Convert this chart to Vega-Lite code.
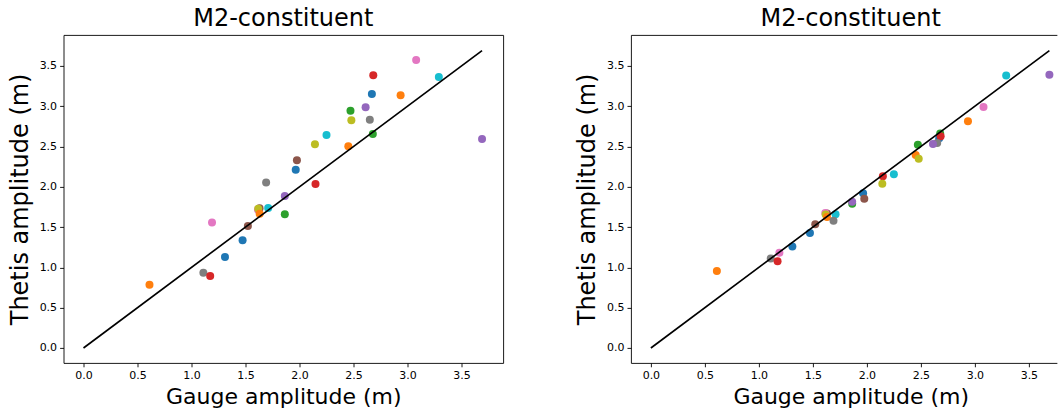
{
  "$schema": "https://vega.github.io/schema/vega-lite/v6.json",
  "background": "white",
  "padding": {"left": 7.5, "top": 6.9, "right": 0, "bottom": 0},
  "bounds": "flush",
  "spacing": 127.4,
  "config": {
    "view": {"stroke": null},
    "font": "DejaVu Sans",
    "title": {"font": "DejaVu Sans", "fontSize": 24, "fontWeight": "normal", "color": "black", "anchor": "middle", "frame": "group", "baseline": "alphabetic", "offset": 3.5},
    "axis": {
      "grid": false,
      "domainColor": "black", "domainWidth": 0.9,
      "tickColor": "black", "tickSize": 3.9, "tickWidth": 0.9,
      "labelFont": "DejaVu Sans", "labelFontSize": 11, "labelColor": "black", "labelPadding": 3,
      "titleFont": "DejaVu Sans", "titleFontSize": 22, "titleFontWeight": "normal", "titleColor": "black",
      "values": [0, 0.5, 1, 1.5, 2, 2.5, 3, 3.5], "format": ".1f"
    }
  },
  "datasets": {
    "pts": [
      {"g": 1.31, "tl": 1.13, "tr": 1.26, "c": "C0"},
      {"g": 0.611, "tl": 0.786, "tr": 0.955, "c": "C1"},
      {"g": 1.864, "tl": 1.659, "tr": 1.791, "c": "C2"},
      {"g": 1.864, "tl": 1.886, "tr": 1.816, "c": "C4"},
      {"g": 1.63, "tl": 1.735, "tr": 1.67, "c": "C5"},
      {"g": 1.615, "tl": 1.715, "tr": 1.675, "c": "C6"},
      {"g": 1.618, "tl": 1.729, "tr": 1.655, "c": "C8"},
      {"g": 1.631, "tl": 1.667, "tr": 1.626, "c": "C1"},
      {"g": 1.71, "tl": 1.737, "tr": 1.659, "c": "C9"},
      {"g": 1.691, "tl": 2.052, "tr": 1.58, "c": "C7"},
      {"g": 1.965, "tl": 2.213, "tr": 1.919, "c": "C0"},
      {"g": 1.976, "tl": 2.329, "tr": 1.853, "c": "C5"},
      {"g": 2.67, "tl": 3.151, "tr": 2.602, "c": "C0"},
      {"g": 2.679, "tl": 2.655, "tr": 2.66, "c": "C2"},
      {"g": 2.683, "tl": 3.383, "tr": 2.627, "c": "C3"},
      {"g": 2.651, "tl": 2.833, "tr": 2.544, "c": "C7"},
      {"g": 2.612, "tl": 2.986, "tr": 2.531, "c": "C4"},
      {"g": 1.19, "tl": 1.556, "tr": 1.183, "c": "C6"},
      {"g": 1.11, "tl": 0.935, "tr": 1.109, "c": "C7"},
      {"g": 1.173, "tl": 0.894, "tr": 1.076, "c": "C3"},
      {"g": 1.473, "tl": 1.336, "tr": 1.427, "c": "C0"},
      {"g": 2.452, "tl": 2.503, "tr": 2.395, "c": "C1"},
      {"g": 2.936, "tl": 3.135, "tr": 2.813, "c": "C1"},
      {"g": 2.472, "tl": 2.945, "tr": 2.523, "c": "C2"},
      {"g": 2.148, "tl": 2.035, "tr": 2.13, "c": "C3"},
      {"g": 3.69, "tl": 2.593, "tr": 3.392, "c": "C4"},
      {"g": 1.522, "tl": 1.514, "tr": 1.535, "c": "C5"},
      {"g": 3.08, "tl": 3.574, "tr": 2.99, "c": "C6"},
      {"g": 2.143, "tl": 2.527, "tr": 2.039, "c": "C8"},
      {"g": 2.48, "tl": 2.825, "tr": 2.349, "c": "C8"},
      {"g": 2.25, "tl": 2.643, "tr": 2.155, "c": "C9"},
      {"g": 3.29, "tl": 3.362, "tr": 3.38, "c": "C9"}
    ],
    "diag": [
      {"g": 0, "t": 0},
      {"g": 3.69, "t": 3.69}
    ]
  },
  "hconcat": [
    {
      "width": 439.6,
      "height": 328,
      "title": {"text": "M2-constituent"},
      "layer": [
        {
          "data": {"name": "pts"},
          "mark": {"type": "point", "filled": true, "size": 64, "opacity": 1, "strokeWidth": 0},
          "encoding": {
            "x": {"field": "g", "type": "quantitative", "scale": {"domain": [-0.185, 3.885], "nice": false, "zero": false}, "axis": {"title": "Gauge amplitude (m)", "titlePadding": 6}},
            "y": {"field": "tl", "type": "quantitative", "scale": {"domain": [-0.185, 3.885], "nice": false, "zero": false}, "axis": {"title": "Thetis amplitude (m)", "titlePadding": 7, "titleFontSize": 24}},
            "color": {"field": "c", "type": "nominal", "legend": null, "scale": {"domain": ["C0","C1","C2","C3","C4","C5","C6","C7","C8","C9"], "range": ["#1f77b4","#ff7f0e","#2ca02c","#d62728","#9467bd","#8c564b","#e377c2","#7f7f7f","#bcbd22","#17becf"]}}
          }
        },
        {
          "data": {"name": "diag"},
          "mark": {"type": "line", "color": "black", "strokeWidth": 1.67},
          "encoding": {
            "x": {"field": "g", "type": "quantitative", "axis": {"orient": "top", "labels": false, "ticks": false, "title": null}},
            "y": {"field": "t", "type": "quantitative", "axis": {"orient": "right", "labels": false, "ticks": false, "title": null}}
          }
        }
      ],
      "resolve": {"axis": {"x": "independent", "y": "independent"}}
    },
    {
      "width": 426,
      "height": 328,
      "title": {"text": "M2-constituent", "dx": 6.8},
      "layer": [
        {
          "data": {"name": "pts"},
          "mark": {"type": "point", "filled": true, "size": 64, "opacity": 1, "strokeWidth": 0},
          "encoding": {
            "x": {"field": "g", "type": "quantitative", "scale": {"domain": [-0.185, 3.7594], "nice": false, "zero": false}, "axis": {"title": "Gauge amplitude (m)", "titlePadding": 6, "titleX": 219.8}},
            "y": {"field": "tr", "type": "quantitative", "scale": {"domain": [-0.185, 3.885], "nice": false, "zero": false}, "axis": {"title": "Thetis amplitude (m)", "titlePadding": 7, "titleFontSize": 24}},
            "color": {"field": "c", "type": "nominal", "legend": null, "scale": {"domain": ["C0","C1","C2","C3","C4","C5","C6","C7","C8","C9"], "range": ["#1f77b4","#ff7f0e","#2ca02c","#d62728","#9467bd","#8c564b","#e377c2","#7f7f7f","#bcbd22","#17becf"]}}
          }
        },
        {
          "data": {"name": "diag"},
          "mark": {"type": "line", "color": "black", "strokeWidth": 1.67},
          "encoding": {
            "x": {"field": "g", "type": "quantitative", "axis": {"orient": "top", "labels": false, "ticks": false, "title": null}},
            "y": {"field": "t", "type": "quantitative"}
          }
        }
      ],
      "resolve": {"axis": {"x": "independent"}}
    }
  ]
}
